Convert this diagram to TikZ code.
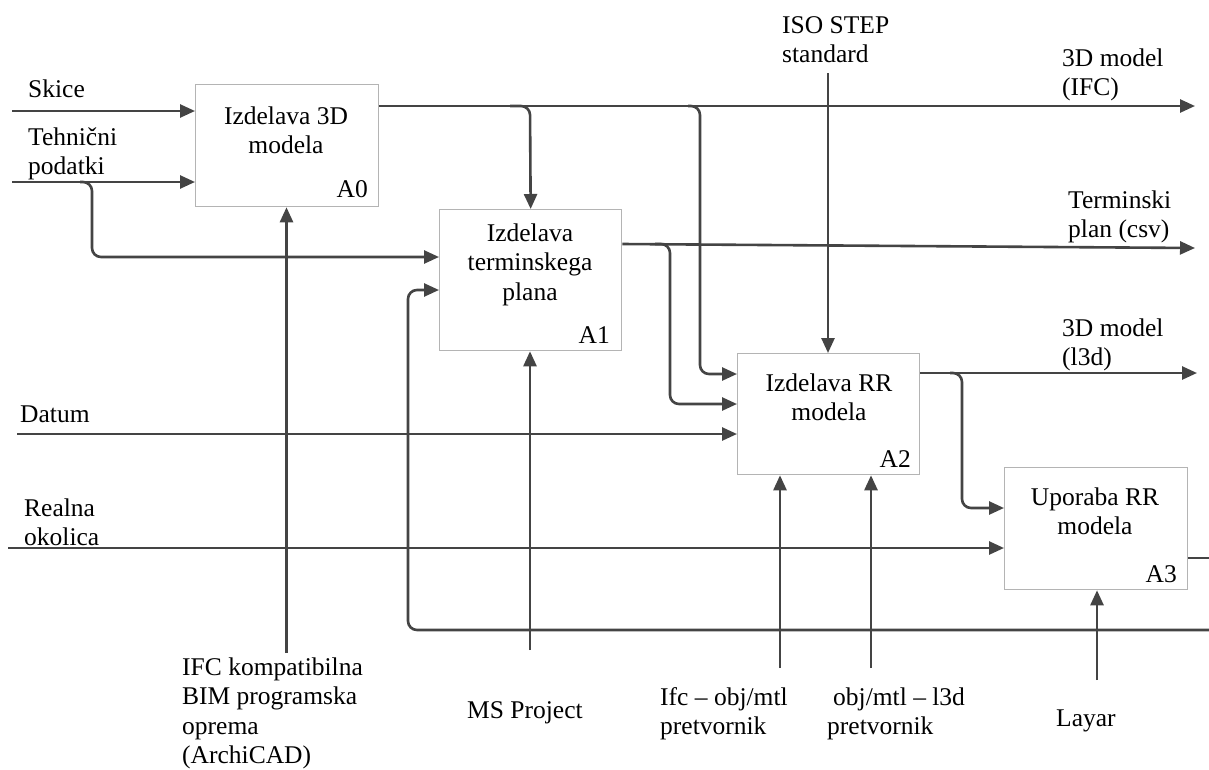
\documentclass[tikz,border=0pt]{standalone}
\usepackage{fontspec}
\setmainfont{Liberation Serif}
\usetikzlibrary{arrows.meta}
\definecolor{lc}{HTML}{444444}
\definecolor{bc}{HTML}{B4B4B4}
\newcommand\fsz{\fontsize{25.5}{29.5}\selectfont}
\tikzset{
  ln/.style={draw=lc, line width=2.6pt},
  arr/.style={ln, -{Triangle[length=15pt,width=13pt]}},
  rc/.style={rounded corners=9pt},
  box/.style={draw=bc, line width=1.3pt, fill=white, anchor=north west, inner sep=0pt},
  txt/.style={font=\fsz, inner sep=0pt, align=left, anchor=base west, text=black},
  btxt/.style={font=\fsz, inner sep=0pt, align=center, anchor=base, text=black},
  lab/.style={font=\fsz, inner sep=0pt, anchor=base east, text=black}
}
\begin{document}
\begin{tikzpicture}[x=1pt,y=-1pt]
\useasboundingbox[fill=white] (0,0) rectangle (1209,769);
% boxes
\node[box, minimum width=183pt, minimum height=122pt] (A0) at (195,84) {};
\node[box, minimum width=182pt, minimum height=141pt] (A1) at (439,209) {};
\node[box, minimum width=182pt, minimum height=121pt] (A2) at (737,353) {};
\node[box, minimum width=183pt, minimum height=122pt] (A3) at (1004,467) {};
% box texts (anchor = baseline of last line)
\node[btxt] (t0) at (286,153.5) {Izdelava 3D\\modela};
\node[btxt] (t1) at (530,300) {Izdelava\\terminskega\\plana};
\node[btxt] (t2) at (829,420.5) {Izdelava RR\\modela};
\node[btxt] (t3) at (1095,534.5) {Uporaba RR\\modela};
\node[lab] (l0) at (368,197) {A0};
\node[lab] (l1) at (610,343) {A1};
\node[lab] (l2) at (911,467) {A2};
\node[lab] (l3) at (1177,582) {A3};
% labels
\node[txt] (sk) at (28,97) {Skice};
\node[txt] (th) at (28,174.5) {Tehnični\\podatki};
\node[txt] (dat) at (20,422) {Datum};
\node[txt] (rea) at (24,545.5) {Realna\\okolica};
\node[txt] (isoL) at (782,62.5) {ISO STEP\\standard};
\node[txt] (ifcL) at (1062,95.5) {3D model\\(IFC)};
\node[txt] (csvL) at (1068,237.5) {Terminski\\plan (csv)};
\node[txt] (l3dL) at (1062,365.5) {3D model\\(l3d)};
\node[txt] (bimL) at (182,763.5) {IFC kompatibilna\\BIM programska\\oprema\\(ArchiCAD)};
\node[txt] (msL) at (467,718) {MS Project};
\node[txt] (c1L) at (660,734.5) {Ifc – obj/mtl\\pretvornik};
\node[txt] (c2L) at (827,734.5) {\hspace*{6pt}obj/mtl – l3d\\pretvornik};
\node[txt] (layL) at (1056,726) {Layar};
% free ends
\coordinate (skS) at (12,111);
\coordinate (thS) at (12,182);
\coordinate (thB) at (80,182);
\coordinate (o1) at (1195,106);
\coordinate (b1) at (510,106);
\coordinate (b2) at (688,106);
\coordinate (o2) at (1195,248);
\coordinate (b3) at (655,244);
\coordinate (iso) at (828,73);
\coordinate (da) at (17,434);
\coordinate (o3) at (1197,373);
\coordinate (b4) at (950,373);
\coordinate (re) at (8,548);
\coordinate (o4) at (1212,558);
\coordinate (fb) at (1212,630);
\coordinate (m0) at (286.5,653);
\coordinate (m1) at (530,650);
\coordinate (m2) at (780,668);
\coordinate (m3) at (871,668);
\coordinate (m4) at (1097,680);
% inputs
\draw[arr] (skS) -- (skS -| A0.west);
\draw[arr] (thS) -- (thS -| A0.west);
\draw[arr, rc] (thB) -- (92,182) -- (92,257) -- (A1.west |- 0,257);
\draw[arr] (da) -- (da -| A2.west);
\draw[arr] (re) -- (re -| A3.west);
% outputs and branches
\draw[arr] (A0.east |- o1) -- (o1);
\draw[arr, rc] (b1) -- (530,106) -- (A1.north);
\draw[arr, rc] (b2) -- (700,106) -- (700,374) -- (A2.west |- 0,374);
\draw[arr] (A1.east |- b3) -- (o2);
\draw[arr, rc] (b3) -- (670,244) -- (670,404) -- (A2.west |- 0,404);
\draw[arr] (A2.east |- o3) -- (o3);
\draw[arr, rc] (b4) -- (962,373) -- (962,508) -- (A3.west |- 0,508);
\draw[ln] (A3.east |- o4) -- (o4);
\draw[arr, rc] (fb) -- (408,630) -- (408,290) -- (A1.west |- 0,290);
% controls
\draw[arr] (iso) -- (iso |- A2.north);
% mechanisms
\draw[arr] (m0) -- (m0 |- A0.south);
\draw[arr] (m1) -- (m1 |- A1.south);
\draw[arr] (m2) -- (m2 |- A2.south);
\draw[arr] (m3) -- (m3 |- A2.south);
\draw[arr] (m4) -- (m4 |- A3.south);
\end{tikzpicture}
\end{document}
